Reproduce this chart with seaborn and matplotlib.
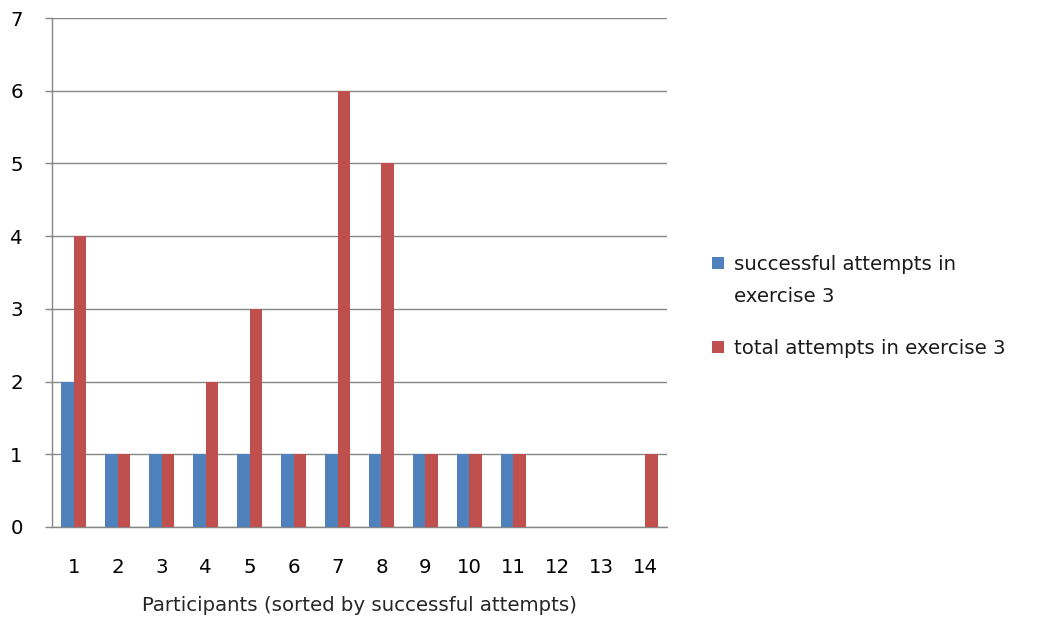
import matplotlib
matplotlib.use("Agg")
import matplotlib.pyplot as plt
from matplotlib.patches import Rectangle
import seaborn as sns
import pandas as pd
import numpy as np

participants = [str(i) for i in range(1, 15)]
successful = [2, 1, 1, 1, 1, 1, 1, 1, 1, 1, 1, 0, 0, 0]
total = [4, 1, 1, 2, 3, 1, 6, 5, 1, 1, 1, 0, 0, 1]
series_names = ["successful attempts in\nexercise 3", "total attempts in exercise 3"]
colors = ["#4F81BD", "#C0504D"]

df = pd.DataFrame({
    "participant": participants * 2,
    "value": successful + total,
    "series": [series_names[0]] * len(participants) + [series_names[1]] * len(participants),
})

sns.set_style("white")
plt.rcParams["font.family"] = ["DejaVu Sans"]
FS = 14.2

W, H = 1042, 620
fig = plt.figure(figsize=(W / 100, H / 100), dpi=100)
ax = fig.add_axes([52 / W, 1 - 527 / H, (667 - 52) / W, (527 - 18) / H])

sns.barplot(data=df, x="participant", y="value", hue="series", palette=colors,
            order=participants, hue_order=series_names, width=0.57, gap=0,
            saturation=1, ax=ax, linewidth=0, zorder=3, legend=False)

ax.set_ylim(0, 7)
ax.set_xlim(-0.5, len(participants) - 0.5)
ax.set_yticks(range(0, 8))
ax.yaxis.grid(True, color="#868686", linewidth=1.0, zorder=0)
ax.set_axisbelow(True)

for s in ["top", "right"]:
    ax.spines[s].set_visible(False)
for s in ["left", "bottom"]:
    ax.spines[s].set_color("#868686")
    ax.spines[s].set_linewidth(1.0)

ax.tick_params(axis="x", which="major", length=0, pad=22, labelsize=FS, colors="black")
ax.set_xticks(np.arange(-0.5, len(participants) + 0.5, 1), minor=True)
ax.tick_params(axis="x", which="minor", length=6, width=1, color="#868686", direction="out")
ax.tick_params(axis="y", length=5, width=1, color="#868686", pad=16, labelsize=FS,
               labelcolor="black", left=True)

ax.set_xlabel("Participants (sorted by successful attempts)", fontsize=FS, labelpad=14)
ax.set_ylabel("")

# legend (drawn manually to mimic the Excel layout with wrapped first entry)
legend_y = [263, 347]
for name, col, y in zip(series_names, colors, legend_y):
    fig.patches.append(Rectangle((712 / W, 1 - (y + 6) / H), 12 / W, 12 / H,
                                 transform=fig.transFigure, facecolor=col, edgecolor="none"))
    for i, ln in enumerate(name.split("\n")):
        fig.text(734 / W, 1 - (y + 32 * i) / H, ln, fontsize=FS, va="center_baseline",
                 ha="left", color="#1a1a1a")

fig.savefig("out.png", dpi=100)
